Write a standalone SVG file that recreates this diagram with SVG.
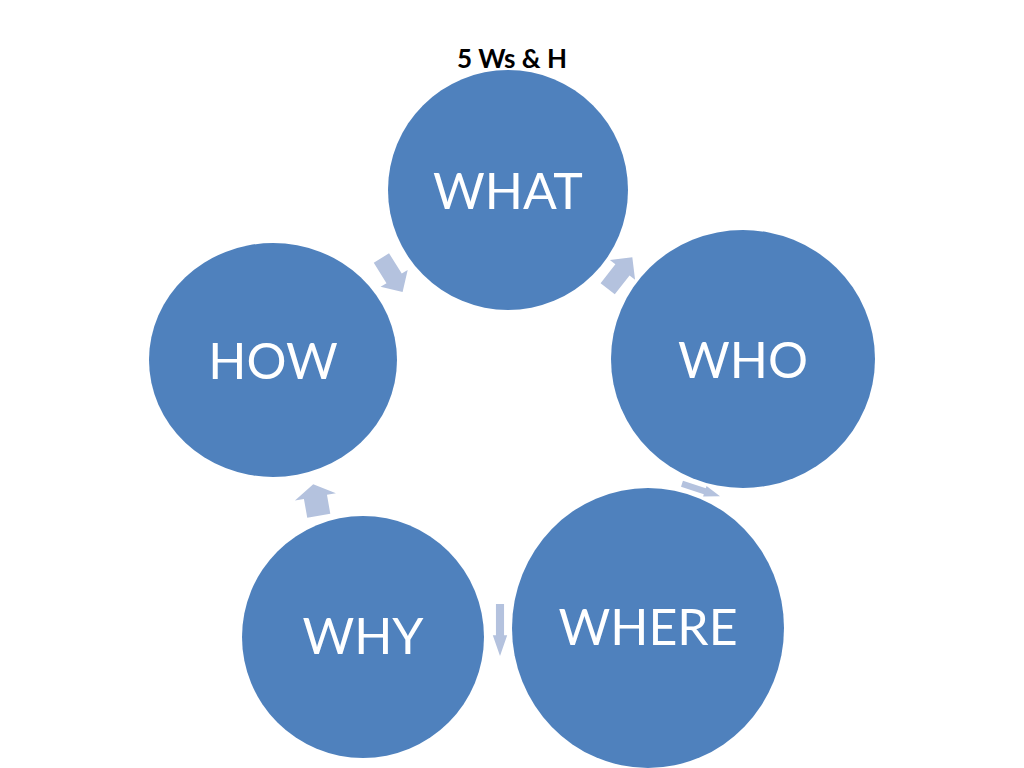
<svg xmlns="http://www.w3.org/2000/svg" width="1024" height="768" viewBox="0 0 1024 768">
<defs>
<style>
.n{fill:#4f81bd}
.t{fill:#fff;font-family:Lato,"Liberation Sans",sans-serif;font-size:50px;text-anchor:middle}
.a{fill:#b4c2de}
</style>
<polygon id="arr" points="-20,-9 4,-9 4,-16 20,0 4,16 4,9 -20,9"/>
</defs>
<rect width="1024" height="768" fill="#fff"/>
<text x="512" y="68" font-family="Lato,'Liberation Sans',sans-serif" font-weight="bold" font-size="26" text-anchor="middle">5 Ws &amp; H</text>
<g id="connectors">
<use href="#arr" class="a" transform="translate(392,275) rotate(58)"/>
<use href="#arr" class="a" transform="translate(620,273) rotate(-52)"/>
<use href="#arr" class="a" transform="translate(701,490) rotate(18) scale(1,0.35)"/>
<use href="#arr" class="a" transform="translate(500,630) rotate(90) scale(1.3,0.45)"/>
<use href="#arr" class="a" transform="translate(316,500) rotate(-100) scale(0.8,1.3)"/>
</g>
<g id="what"><ellipse class="n" cx="508" cy="190" rx="120" ry="120"/><text class="t" x="508" y="209">WHAT</text></g>
<g id="who"><ellipse class="n" cx="743" cy="359" rx="132" ry="129"/><text class="t" x="743" y="378">WHO</text></g>
<g id="where"><ellipse class="n" cx="648" cy="628" rx="136" ry="140"/><text class="t" x="648" y="645">WHERE</text></g>
<g id="why"><ellipse class="n" cx="363" cy="637" rx="121" ry="121"/><text class="t" x="363" y="654">WHY</text></g>
<g id="how"><ellipse class="n" cx="273" cy="360" rx="124" ry="117"/><text class="t" x="273" y="379">HOW</text></g>
</svg>
